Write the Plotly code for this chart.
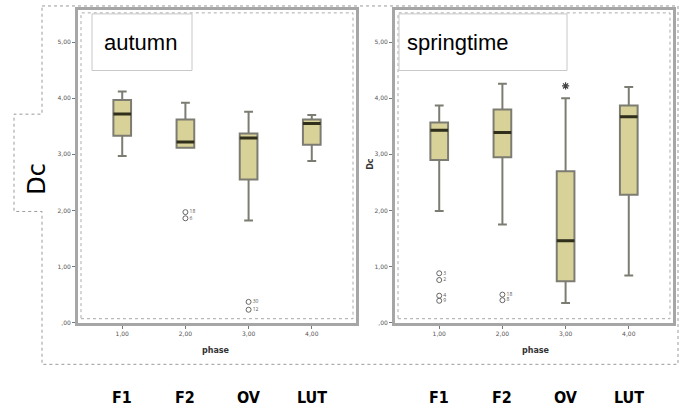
import plotly.graph_objects as go

W, H = 682, 414

phases = [1, 2, 3, 4]
phase_ticks = ["1,00", "2,00", "3,00", "4,00"]
phase_names = ["F1", "F2", "OV", "LUT"]
y_ticks = [0, 1, 2, 3, 4, 5]
y_tick_labels = [",00", "1,00", "2,00", "3,00", "4,00", "5,00"]

# autumn
aut_low = [2.97, 3.12, 1.82, 2.88]
aut_q1 = [3.33, 3.12, 2.55, 3.17]
aut_med = [3.72, 3.22, 3.29, 3.55]
aut_q3 = [3.97, 3.62, 3.37, 3.62]
aut_high = [4.12, 3.92, 3.76, 3.70]
aut_out_x = [2, 2, 3, 3]
aut_out_y = [1.86, 1.97, 0.23, 0.37]
aut_out_lbl = ["6", "18", "12", "30"]

# springtime
spr_low = [1.99, 1.75, 0.35, 0.84]
spr_q1 = [2.90, 2.95, 0.74, 2.28]
spr_med = [3.43, 3.39, 1.46, 3.67]
spr_q3 = [3.57, 3.80, 2.70, 3.87]
spr_high = [3.87, 4.26, 4.00, 4.20]
spr_out_x = [1, 1, 1, 1, 2, 2]
spr_out_y = [0.88, 0.76, 0.48, 0.39, 0.50, 0.40]
spr_out_lbl = ["3", "2", "4", "9", "18", "8"]
spr_ext_x = [3]
spr_ext_y = [4.22]

BOX_W = 0.28
FILL = "#d8d198"
EDGE = "#7c7c72"
MED = "#2f2f1c"

fig = go.Figure()


def add_panel(xa, ya, low, q1, med, q3, high, ox, oy, olbl):
    fig.add_trace(go.Box(
        x=phases, q1=q1, median=med, q3=q3, lowerfence=low, upperfence=high,
        width=BOX_W, whiskerwidth=0.5, fillcolor=FILL,
        line=dict(color=EDGE, width=2), boxpoints=False,
        xaxis=xa, yaxis=ya, showlegend=False, hoverinfo="skip"))
    mx, my = [], []
    for p, m in zip(phases, med):
        mx += [p - BOX_W / 2, p + BOX_W / 2, None]
        my += [m, m, None]
    fig.add_trace(go.Scatter(x=mx, y=my, mode="lines",
                             line=dict(color=MED, width=3),
                             xaxis=xa, yaxis=ya, showlegend=False, hoverinfo="skip"))
    fig.add_trace(go.Scatter(x=ox, y=oy, mode="markers+text", text=olbl,
                             textposition="middle right",
                             textfont=dict(size=5, color="#555"),
                             marker=dict(symbol="circle-open", size=5,
                                         color="#666", line=dict(width=1)),
                             xaxis=xa, yaxis=ya, showlegend=False, hoverinfo="skip"))


add_panel("x", "y", aut_low, aut_q1, aut_med, aut_q3, aut_high,
          aut_out_x, aut_out_y, aut_out_lbl)
add_panel("x2", "y2", spr_low, spr_q1, spr_med, spr_q3, spr_high,
          spr_out_x, spr_out_y, spr_out_lbl)
fig.add_trace(go.Scatter(x=spr_ext_x, y=spr_ext_y, mode="markers",
                         marker=dict(symbol="asterisk-open", size=6, color="#444",
                                     line=dict(width=1.2, color="#444")),
                         xaxis="x2", yaxis="y2", showlegend=False, hoverinfo="skip"))


def px(x):
    return x / W


def py(y):
    return 1 - y / H


axis_common = dict(showgrid=False, zeroline=False, showline=True, mirror=True,
                   linecolor="#a6a6a6", linewidth=3, ticks="outside", ticklen=3,
                   tickcolor="#777", tickwidth=1,
                   tickfont=dict(size=6, color="#555", family="DejaVu Sans"))

fig.update_layout(
    width=W, height=H, margin=dict(l=0, r=0, t=0, b=0),
    paper_bgcolor="white", plot_bgcolor="white",
    xaxis=dict(domain=[px(78), px(356)], range=[0.3, 4.7], tickvals=phases,
               ticktext=phase_ticks, anchor="y", **axis_common),
    yaxis=dict(domain=[py(325), py(10)], range=[0, 5.575], tickvals=y_ticks,
               ticktext=y_tick_labels, anchor="x", **axis_common),
    xaxis2=dict(domain=[px(395), px(673)], range=[0.3, 4.7], tickvals=phases,
                ticktext=phase_ticks, anchor="y2", **axis_common),
    yaxis2=dict(domain=[py(325), py(10)], range=[0, 5.575], tickvals=y_ticks,
                ticktext=y_tick_labels, anchor="x2", **axis_common),
)

shapes = []
# outer dotted frame with Dc tab
path = "M {a},{b} L {c},{b} L {c},{d} L {a},{d} L {a},{e} L {f},{e} L {f},{g} L {a},{g} Z".format(
    a=px(42), b=py(6), c=px(678), d=py(367), e=py(213), f=px(14), g=py(115))
shapes.append(dict(type="path", path=path, xref="paper", yref="paper",
                   line=dict(color="#9a9a9a", width=1, dash="dot")))
# inner dotted frames
for x0, x1 in [(81, 353), (398, 670)]:
    shapes.append(dict(type="rect", xref="paper", yref="paper",
                       x0=px(x0), x1=px(x1), y0=py(321), y1=py(13),
                       line=dict(color="#aaaaaa", width=1, dash="dot")))
# season label boxes
for x0, x1 in [(92, 192), (399, 567)]:
    shapes.append(dict(type="rect", xref="paper", yref="paper",
                       x0=px(x0), x1=px(x1), y0=py(71), y1=py(14),
                       fillcolor="white",
                       line=dict(color="#c8c8c8", width=1)))
fig.update_layout(shapes=shapes)


def note(x, y, text, size, color, family, angle=0, xref="paper"):
    return dict(x=x, y=y, text=text, showarrow=False, textangle=angle,
                xref=xref, yref="paper", xanchor="center", yanchor="middle",
                font=dict(size=size, color=color, family=family))


ann = [
    note(px(140), py(43), "autumn", 22, "black", "Liberation Sans"),
    note(px(457), py(43), "springtime", 22, "black", "Liberation Sans"),
    note(px(37), py(180), "Dc", 24, "black", "DejaVu Sans", -90),
    note(px(371), py(165), "<b>Dc</b>", 8, "#333", "DejaVu Sans", -90),
    note(px(216), py(353), "<b>phase</b>", 8, "#333", "DejaVu Sans"),
    note(px(536), py(353), "<b>phase</b>", 8, "#333", "DejaVu Sans"),
]
for xa in ["x", "x2"]:
    for p, name in zip(phases, phase_names):
        ann.append(note(p, py(400), "<b>" + name + "</b>", 16, "black",
                        "DejaVu Sans Condensed, Liberation Sans Narrow, Roboto", xref=xa))
fig.update_layout(annotations=ann)

fig.write_html("out.html")
